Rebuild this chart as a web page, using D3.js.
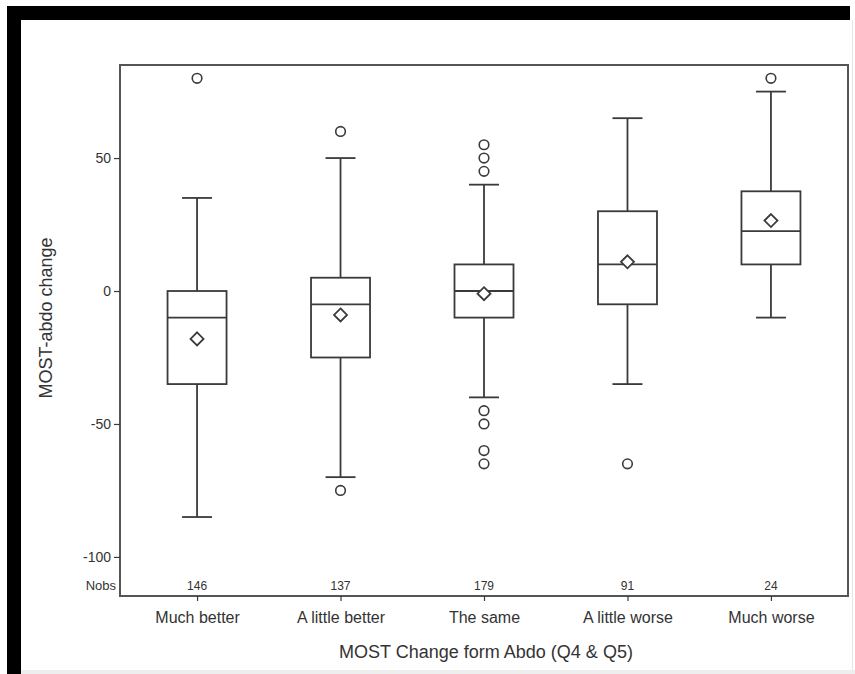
<!DOCTYPE html>
<html>
<head>
<meta charset="utf-8">
<script src="https://cdn.jsdelivr.net/npm/d3@7"></script>
<style>
  body { margin: 0; background: #fff; }
  text { font-family: "Liberation Sans", Arial, sans-serif; fill: #333; }
</style>
</head>
<body>
<div class="module"></div>
<script>
// values
const categories = ["Much better", "A little better", "The same", "A little worse", "Much worse"];
const nobs = [146, 137, 179, 91, 24];
const whiskLow = [-85, -70, -40, -35, -10];
const q1 = [-35, -25, -10, -5, 10];
const median = [-10, -5, 0, 10, 22.5];
const q3 = [0, 5, 10, 30, 37.5];
const whiskHigh = [35, 50, 40, 65, 75];
const means = [-18, -9, -1, 11, 26.5];
const outliers = [[80], [60, -75], [55, 50, 45, -45, -50, -60, -65], [-65], [80]];
const yTicks = [-100, -50, 0, 50];

drawBoxes(d3.select('.module').node());

function drawBoxes(rootDOM){
	const W = 855;
	const H = 674;
	const left = 120, right = 848, top = 65, bottom = 596;
	const ink = '#3a3a3a';

	const svg = d3.select(rootDOM)
		.append('svg')
		.attr('width', W)
		.attr('height', H);

	// the dark scan border round the picture
	svg.append('rect').attr('x', 7).attr('y', 6).attr('width', 843).attr('height', H - 6).attr('fill', '#000');
	svg.append('rect').attr('x', 21).attr('y', 20).attr('width', W - 21).attr('height', 650).attr('fill', '#fff');
	svg.append('rect').attr('x', 21).attr('y', 670).attr('width', W - 21).attr('height', 4).attr('fill', '#eee');
	svg.append('line').attr('x1', 852.5).attr('x2', 852.5).attr('y1', 20).attr('y2', 670)
		.attr('stroke', '#e4e4e4').attr('stroke-width', 1);

	const x = d3.scalePoint().domain(categories).range([left, right]).padding(0.537);
	const y = d3.scaleLinear().domain([-114.7, 85]).range([bottom, top]);

	const rows = categories.map((c, i) => ({
		cat: c, n: nobs[i], lo: whiskLow[i], q1: q1[i], med: median[i],
		q3: q3[i], hi: whiskHigh[i], mean: means[i], out: outliers[i]
	}));

	// frame
	svg.append('rect')
		.attr('x', left).attr('y', top)
		.attr('width', right - left).attr('height', bottom - top)
		.attr('fill', 'none').attr('stroke', '#555').attr('stroke-width', 2);

	// y axis
	const yAxis = svg.append('g')
		.attr('transform', `translate(${left},0)`)
		.call(d3.axisLeft(y).tickValues(yTicks).tickSize(6).tickPadding(3).tickFormat(d => String(d)));
	yAxis.select('.domain').remove();
	yAxis.selectAll('line').attr('stroke', ink).attr('stroke-width', 1.2);
	yAxis.selectAll('text').style('font-size', '14px').attr('fill', '#333');

	// x axis
	const xAxis = svg.append('g')
		.attr('transform', `translate(0,${bottom})`)
		.call(d3.axisBottom(x).tickSize(5).tickPadding(11));
	xAxis.select('.domain').remove();
	xAxis.selectAll('line').attr('stroke', ink).attr('stroke-width', 1.2);
	xAxis.selectAll('text').style('font-size', '16px').attr('fill', '#333');

	// Nobs row
	svg.append('text').attr('x', left - 4).attr('y', bottom - 6)
		.attr('text-anchor', 'end').style('font-size', '13px').text('Nobs');
	svg.selectAll('.nobs').data(rows).enter().append('text')
		.attr('class', 'nobs')
		.attr('x', d => x(d.cat)).attr('y', bottom - 6)
		.attr('text-anchor', 'middle').style('font-size', '12px')
		.text(d => d.n);

	// titles
	svg.append('text').attr('x', (left + right) / 2 + 2).attr('y', 658)
		.attr('text-anchor', 'middle').style('font-size', '18px')
		.text('MOST Change form Abdo (Q4 & Q5)');
	svg.append('text')
		.attr('transform', 'translate(52,318) rotate(-90)')
		.attr('text-anchor', 'middle').style('font-size', '18px')
		.text('MOST-abdo change');

	const boxW = 59, capW = 30;
	const nodes = svg.selectAll('.box').data(rows).enter().append('g')
		.attr('class', 'box')
		.attr('transform', d => `translate(${x(d.cat)},0)`)
		.attr('stroke', ink).attr('stroke-width', 1.8).attr('fill', 'none');

	// whiskers
	nodes.append('line').attr('x1', 0).attr('x2', 0).attr('y1', d => y(d.hi)).attr('y2', d => y(d.q3));
	nodes.append('line').attr('x1', 0).attr('x2', 0).attr('y1', d => y(d.q1)).attr('y2', d => y(d.lo));
	nodes.append('line').attr('x1', -capW / 2).attr('x2', capW / 2).attr('y1', d => y(d.hi)).attr('y2', d => y(d.hi));
	nodes.append('line').attr('x1', -capW / 2).attr('x2', capW / 2).attr('y1', d => y(d.lo)).attr('y2', d => y(d.lo));

	// box and median
	nodes.append('rect')
		.attr('x', -boxW / 2).attr('width', boxW)
		.attr('y', d => y(d.q3)).attr('height', d => y(d.q1) - y(d.q3));
	nodes.append('line').attr('x1', -boxW / 2).attr('x2', boxW / 2)
		.attr('y1', d => y(d.med)).attr('y2', d => y(d.med));

	// mean diamond
	nodes.append('path')
		.attr('d', d => `M0,${y(d.mean) - 6.5}L6.5,${y(d.mean)}L0,${y(d.mean) + 6.5}L-6.5,${y(d.mean)}Z`)
		.attr('fill', '#fff');

	// outliers
	nodes.selectAll('circle').data(d => d.out).enter().append('circle')
		.attr('cx', 0).attr('cy', v => y(v)).attr('r', 4.8)
		.attr('stroke-width', 1.6);
}
</script>
</body>
</html>
